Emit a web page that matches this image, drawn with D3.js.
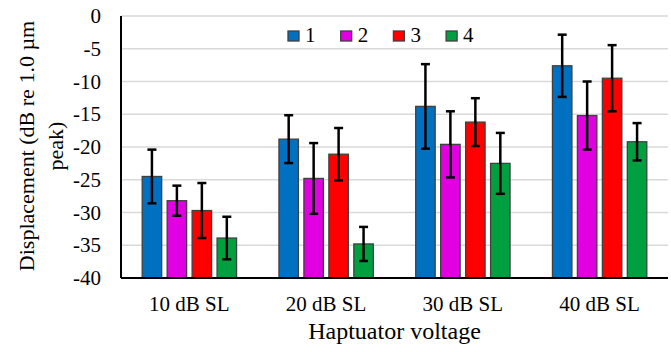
<!DOCTYPE html>
<html>
<head>
<meta charset="utf-8">
<script src="https://cdn.jsdelivr.net/npm/d3@7"></script>
</head>
<body style="margin:0;background:#fff">
<div id="chart"></div>
<script>
// categories along x, one group each
var categories = ["10 dB SL", "20 dB SL", "30 dB SL", "40 dB SL"];
var seriesNames = ["1", "2", "3", "4"];
var seriesColors = ["#0070c0", "#e100e1", "#ff0000", "#00a040"];

// mean displacement per series (dB re 1.0 um peak)
var s1 = [-24.5, -18.8, -13.8, -7.6];
var s2 = [-28.2, -24.8, -19.6, -15.2];
var s3 = [-29.7, -21.1, -16.2, -9.5];
var s4 = [-33.9, -34.8, -22.5, -19.2];
// error bar half lengths
var e1 = [4.1, 3.65, 6.45, 4.75];
var e2 = [2.3, 5.4, 5.05, 5.2];
var e3 = [4.2, 4.0, 3.65, 5.05];
var e4 = [3.25, 2.6, 4.65, 2.85];

var yTicks = [0, -5, -10, -15, -20, -25, -30, -35, -40];

var W = 671, H = 352;
var margin = {left: 121, right: 3, top: 16, bottom: 74};
var FONT = "Liberation Serif";

var svg = d3.select("#chart").append("svg")
    .attr("width", W).attr("height", H)
    .attr("font-family", FONT);

var x0 = d3.scaleBand()
    .domain(categories)
    .range([margin.left, W - margin.right])
    .paddingInner(0.31)
    .paddingOuter(0.155);

var x1 = d3.scaleBand()
    .domain(seriesNames)
    .range([0, x0.bandwidth()])
    .paddingInner(0.22);

var y = d3.scaleLinear()
    .domain([-40, 0])
    .range([H - margin.bottom, margin.top]);

// gridlines
svg.append("g")
    .selectAll("line")
    .data(yTicks.filter(function (d) { return d > -40; }))
    .enter().append("line")
    .attr("x1", margin.left).attr("x2", W - margin.right)
    .attr("y1", function (d) { return y(d); })
    .attr("y2", function (d) { return y(d); })
    .style("stroke", "#d9d9d9")
    .style("stroke-width", 1.5);

// y axis labels
var yAxis = d3.axisLeft(y).tickValues(yTicks).tickSize(0).tickPadding(20)
    .tickFormat(function (d) { return d; });
var gy = svg.append("g")
    .attr("transform", "translate(" + margin.left + ",0)")
    .call(yAxis)
    .attr("font-family", FONT)
    .attr("font-size", 21);
gy.select(".domain").remove();
gy.selectAll("text").attr("fill", "#000");

// build rows
var means = [s1, s2, s3, s4];
var errs = [e1, e2, e3, e4];
var rows = [];
categories.forEach(function (c, i) {
    seriesNames.forEach(function (s, j) {
        rows.push({cat: c, ser: s, val: means[j][i], err: errs[j][i], color: seriesColors[j]});
    });
});

// bars
svg.append("g")
    .selectAll("rect")
    .data(rows)
    .enter().append("rect")
    .attr("x", function (d) { return x0(d.cat) + x1(d.ser); })
    .attr("width", x1.bandwidth())
    .attr("y", function (d) { return y(d.val); })
    .attr("height", function (d) { return y(-40) - y(d.val); })
    .style("fill", function (d) { return d.color; })
    .style("stroke", "#404040")
    .style("stroke-width", 1.3);

// error bars
var eb = svg.append("g")
    .selectAll("g")
    .data(rows)
    .enter().append("g")
    .attr("transform", function (d) {
        return "translate(" + (x0(d.cat) + x1(d.ser) + x1.bandwidth() / 2) + ",0)";
    });
eb.append("line")
    .attr("x1", 0).attr("x2", 0)
    .attr("y1", function (d) { return y(d.val + d.err); })
    .attr("y2", function (d) { return y(d.val - d.err); })
    .style("stroke", "#000").style("stroke-width", 2.5);
eb.append("line")
    .attr("x1", -4.5).attr("x2", 4.5)
    .attr("y1", function (d) { return y(d.val + d.err); })
    .attr("y2", function (d) { return y(d.val + d.err); })
    .style("stroke", "#000").style("stroke-width", 2.5);
eb.append("line")
    .attr("x1", -4.5).attr("x2", 4.5)
    .attr("y1", function (d) { return y(d.val - d.err); })
    .attr("y2", function (d) { return y(d.val - d.err); })
    .style("stroke", "#000").style("stroke-width", 2.5);

// axis lines
svg.append("line")
    .attr("x1", margin.left).attr("x2", margin.left)
    .attr("y1", y(0)).attr("y2", y(-40))
    .style("stroke", "#000").style("stroke-width", 2);
svg.append("line")
    .attr("x1", margin.left).attr("x2", W - margin.right)
    .attr("y1", y(-40)).attr("y2", y(-40))
    .style("stroke", "#000").style("stroke-width", 2);

// category labels
svg.append("g")
    .selectAll("text")
    .data(categories)
    .enter().append("text")
    .attr("x", function (d) { return x0(d) + x0.bandwidth() / 2; })
    .attr("y", 311)
    .attr("text-anchor", "middle")
    .attr("font-family", FONT)
    .attr("font-size", 21)
    .text(function (d) { return d; });

// axis titles
svg.append("text")
    .attr("x", (margin.left + W - margin.right) / 2)
    .attr("y", 339)
    .attr("text-anchor", "middle")
    .attr("font-family", FONT)
    .attr("font-size", 24)
    .text("Haptuator voltage");

var yt = svg.append("text")
    .attr("transform", "translate(0," + 146 + ") rotate(-90)")
    .attr("text-anchor", "middle")
    .attr("font-family", FONT)
    .attr("font-size", 22);
yt.append("tspan").attr("x", 0).attr("y", 34).text("Displacement (dB re 1.0 µm");
yt.append("tspan").attr("x", 0).attr("y", 63).text("peak)");

// legend
var lg = svg.append("g")
    .selectAll("g")
    .data(seriesNames)
    .enter().append("g")
    .attr("transform", function (d, i) { return "translate(" + (288 + i * 52.7) + ",31)"; });
lg.append("rect")
    .attr("width", 11).attr("height", 10)
    .style("fill", function (d, i) { return seriesColors[i]; })
    .style("stroke", "#404040").style("stroke-width", 1.3);
lg.append("text")
    .attr("x", 17).attr("y", 11)
    .attr("font-family", FONT)
    .attr("font-size", 21)
    .text(function (d) { return d; });
</script>
</body>
</html>
